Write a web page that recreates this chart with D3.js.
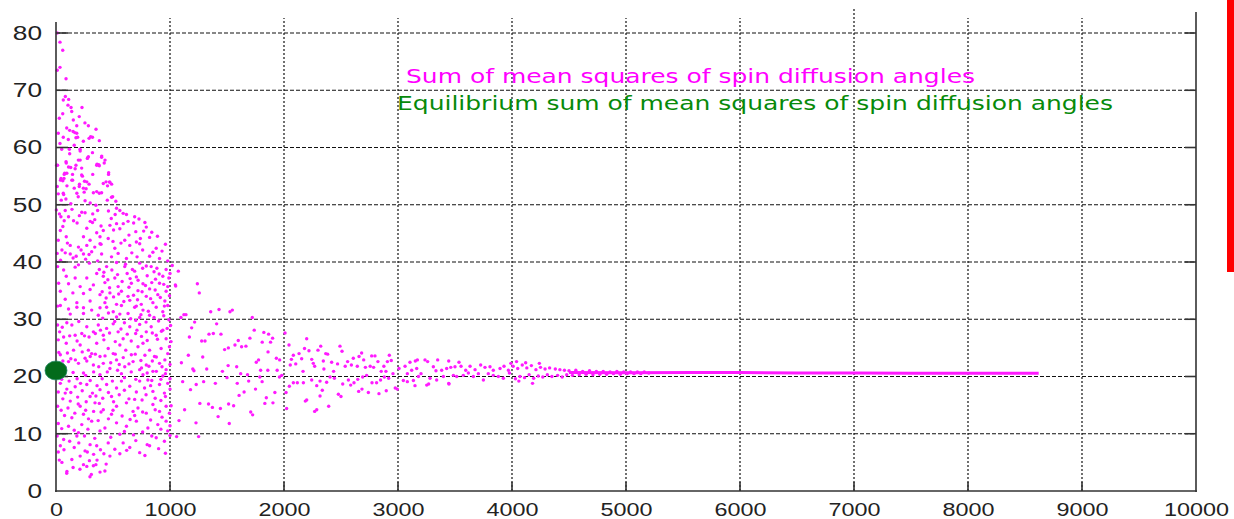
<!DOCTYPE html>
<html>
<head>
<meta charset="utf-8">
<script src="https://cdn.jsdelivr.net/npm/d3@7/dist/d3.min.js"></script>
<style>
  body { margin: 0; background: #fff; }
  svg { display: block; }
</style>
</head>
<body>
<div id="chart"></div>
<script>
// spin diffusion angles: scatter of sum of mean squares vs step, plus equilibrium value

const xTicks = [0, 1000, 2000, 3000, 4000, 5000, 6000, 7000, 8000, 9000, 10000];
const yTicks = [0, 10, 20, 30, 40, 50, 60, 70, 80];
const legendLabels = ['Sum of mean squares of spin diffusion angles', 'Equilibrium sum of mean squares of spin diffusion angles'];

const equilibriumX = [0];
const equilibriumY = [21.05];

// step 0 - 1000, widest spread
const earlyPoints = [
  [11,80],[35,78.4],[59,77],[11,73.5],[35,74],[88,72],
  [82,68.9],[111,68.4],[64,68.3],[59,65.9],[29,65.1],[105,67.4],[132,67],[228,67],[138,66.3],[204,65.4],[152,64.8],[254,64.3],[182,63.8],[94,63.4],[120,63],[150,62.8],[182,62.5],[165,62.6],[20,62.5],[64,61.8],[108,61.4],[175,61.7],[190,61.8],[284,63.8],[351,63.2],[304,61.9],[320,61.8],[290,61.6],[380,61.2],[35,60.7],[117,59.7],[211,59.7],[284,58.4],[275,58.1],[401,58.5],[430,57.8],[360,57.1],[375,57],[88,57.5],[196,57.8],[175,56.9],[6,56.9],[225,56.4],[129,56.5],[462,55.6],[76,55.5],[95,55.5],[322,55.3],[225,55.2],[44,54.6],[70,54.6],[146,54.3],[270,54],[250,54.1],[439,54],[470,54],[488,53.6],[204,53.2],[357,52.3],[497,51.4],[64,52],[240,52.9],[11,53.2],
  [212,59.4],[90,57.3],[110,56.6],[168,56.3],[212,57.8],[278,58.2],[400,58.3],[423,57.3],[357,56.9],[380,56.8],[14,56.9],[72,55.3],[145,55.3],[232,55],[461,55.3],[40,54.3],[60,54.2],[139,54.3],[206,53.6],[290,53.6],[415,53.7],[473,53.9],[452,53.3],[264,52.8],[96,53.3],[67,51.8],[160,52.9],[183,52],[247,52.2],[328,52.1],[380,52],[400,52.1],[487,51.3],[46,50.8],[87,51],[255,50.7],[525,50.6],
  [3,49.1],[81,49],[226,48.7],[255,48.6],[322,48.4],[531,49.4],[560,49],[589,48.5],[618,48.3],[690,47.9],[728,47.5],[519,48.3],[43,47.9],[72,47.2],[154,47.2],[300,47.1],[320,46.9],[473,46.4],[531,46.7],[632,47.1],[681,46.8],[792,46.1],[769,45.4],[415,45.5],[357,45.1],[560,45.8],[38,45.5],[90,44.4],[241,44.4],[299,43.8],[386,44.4],[458,44.1],[603,43.8],[705,43.5],[821,44.3],[20,43.8],[125,42.9],[197,42.6],[270,42.9],[386,43.2],[516,42.4],[647,42.9],[734,43.2],[879,42.4],[52,42.1],[81,41.6],[125,41.4],[177,41],[241,41.4],[313,41.8],[400,41.4],[487,40.9],[545,41.5],[618,40.6],[711,40.9],[821,41],[908,40.6],[980,40.2],
  [14,39.2],[67,38.6],[168,39.1],[197,39.5],[293,39.8],[380,38.7],[444,39.2],[531,39.9],[603,39.2],[670,38.7],[734,39.8],[792,39.3],[835,39.2],[885,38.9],[966,38.7],[1000,38],[1047,36],[90,37.5],[168,37.2],[270,37.2],[357,38],[415,37.5],[516,37.2],[624,38],[705,37.4],[873,37],[937,37.5],[23,36.3],[110,36.2],[212,35.7],[328,36],[429,36.4],[545,35.7],[661,36.3],[763,36.2],[821,35.3],[908,36.3],[980,35.7],[38,34.9],[148,34.6],[241,34.5],[299,35.2],[386,34.3],[473,34.6],[574,34.9],[632,34],[719,35],[792,34],[893,34.3],[966,34.9],[81,33.5],[183,32.9],[299,33.2],[429,32.9],[531,32.6],[647,33.3],[748,32.6],[850,32.9],[951,32.3],[14,32.3],[241,32],[386,32],[705,32.3],
  [38,32.4],[110,31.8],[183,32.1],[241,31],[313,31.6],[371,30.7],[444,32.1],[502,31.3],[574,32.4],[632,31],[690,32.1],[763,31.6],[821,30.7],[879,32.1],[937,31.3],[980,32.4],[125,30.9],[531,30.4],[734,30.3],
  [14,29],[32,27.8],[67,26.9],[139,29],[168,27.2],[226,27.5],[270,28.7],[328,27.8],[371,29],[415,27.2],[444,28.4],[502,29.2],[545,27.8],[589,26.6],[647,28.7],[699,27.5],[734,29.1],[792,27.8],[835,28.7],[879,27.2],[937,28.1],[966,26.6],[1009,26.1],[90,25.8],[154,24.6],[212,25.5],[284,24.6],[313,24],[357,25.8],[386,23.5],[458,24.9],[502,24],[560,25.5],[612,24.6],[661,23.8],[719,25.2],[763,25.8],[821,24.6],[864,23.5],[922,24.9],[980,24],[995,25.2],[38,23.8],[110,22.6],[197,22.3],[255,23.2],[328,22],[415,22.3],[473,21.4],[531,22.9],[603,21.7],[676,22.6],[734,21.2],[792,22],[850,20.9],[908,22.3],[966,21.2],[67,20.9],[241,20.6],[386,20.3],[574,20.5],[763,20.3],[937,20.1],
  [38,18.8],[81,17.1],[168,18.2],[270,18.6],[299,16.5],[386,17.7],[444,18.6],[487,16.5],[531,18],[574,19.2],[647,18.3],[690,16],[734,19.2],[777,18],[806,19.4],[850,17.4],[908,18.6],[951,17.1],[980,18.8],[14,14.8],[125,15.7],[212,14.8],[241,13.4],[342,15.4],[415,14.2],[487,13.4],[531,14.8],[618,15.4],[676,13.9],[719,14.5],[792,13.6],[850,15.1],[908,13.9],[966,14.8],[995,13.6],[139,12.8],[226,11.6],[313,12.2],[429,11],[531,11.9],[618,11.3],[705,12.2],[806,11],[893,11.6],[966,12.2],[980,10.5],[197,10.2],[386,10.5],[560,9.9],
  [67,9],[38,7.9],[183,9.6],[299,8.1],[255,7],[357,7.9],[458,8.4],[516,7.3],[589,8.4],[647,7.6],[734,6.7],[821,7.9],[879,9.3],[951,8.7],[212,6.1],[293,5.3],[328,4.4],[386,3.3],[429,3.5],[310,2.9],[96,3.4],[52,5],[139,5.5],[473,6.1],[241,4.6],[29,5.4],[94,3.1],[298,2.5],
  [420,38.2],[455,36.9],[490,38.6],[540,37.8],[580,36.6],[610,39.6],[650,37.1],[690,38.4],[720,36.8],[760,38.9],[800,37.6],[840,36.4],[860,38.3],[905,37.9],[945,36.1],[990,37.2],
  [405,34.8],[440,33.7],[470,35.5],[505,33.9],[550,34.4],[595,33.1],[640,35.6],[680,34.2],[715,33.4],[755,34.8],[785,35.9],[830,33.6],[870,35.1],[915,33.8],[955,33.2],[995,34.1],
  [410,30.2],[460,31.1],[515,29.6],[560,30.9],[600,29.4],[655,30.1],[700,29.8],[745,30.8],[790,29.5],[810,31.4],[860,30.3],[900,29.7],[945,30.6],[990,29.9],
  [420,26.4],[470,27.6],[520,26.1],[570,28.3],[625,27.4],[660,26.2],[710,28.1],[750,27],[800,26.3],[845,27.6],[890,26.5],[925,27.9],[975,28.4],[1005,28.9],
  [430,23.6],[480,22.4],[520,23.9],[555,22.1],[590,23.3],[640,22.2],[695,23.9],[745,22.8],[780,23.7],[815,21.8],[845,22.7],[880,23.4],[930,21.7],[955,22.9],[1000,22.1],
  [405,19.6],[450,20.8],[495,19.2],[540,21.1],[600,19.8],[660,20.8],[700,19.5],[750,21.5],[800,20.6],[840,19.3],[880,20.9],[920,19.5],[960,20.5],[1000,19.6],
  [410,16.2],[460,17.2],[505,15.6],[555,16.8],[600,17.6],[640,16.1],[705,17.3],[755,15.9],[790,16.8],[830,18.4],[870,16.2],[920,15.8],[960,16.5],[1000,17.8],
  [460,12.6],[500,14.1],[580,13.1],[650,12.5],[690,13.2],[760,13.8],[830,12.4],[870,14.2],[930,12.9],[1000,11.4],[1010,14.9],
  [480,9.4],[600,10.4],[680,9.8],[760,10.3],[840,9.6],[920,10.8],[1000,9.7],[560,6.5],[620,7.1],[700,8.8],[780,6.2],[800,8.1],[900,7.4],[960,6.6],[420,6.5],[360,5.4],[440,4.7],
  [20,26.4],[55,28.6],[95,29.4],[120,27.1],[185,26.2],[200,29.6],[250,27.1],[290,26.9],[345,27.5],[390,28.1],
  [25,24.2],[60,22.7],[100,24.1],[130,23.1],[170,22.9],[230,24.3],[270,22.7],[300,23.5],[345,23.9],[375,21.7],
  [50,19.5],[80,21.6],[115,19.2],[150,20.7],[185,19.6],[215,18.8],[260,20.2],[300,19.3],[330,20.8],[360,18.4],
  [20,17.3],[60,16.1],[95,17.8],[130,17.2],[190,16.4],[230,17.5],[265,15.6],[320,17.1],[350,16.6],[380,15.3],
  [45,14.1],[75,13.2],[105,14.5],[165,13.6],[195,15.2],[260,14.1],[285,12.6],[330,13.9],[370,12.3],[395,13.8],
  [20,11.8],[50,10.9],[110,11.3],[160,10.6],[250,9.6],[280,10.8],[340,9.2],[10,9.6],[120,8.7],[160,7.6],[200,8.4],[275,6.8],[330,6.4],[390,7.2],[20,6.8],[70,7.2],[150,4.1],[210,3.8],[270,4.3],[350,4.6],
  [30,48.4],[60,46.2],[110,47.9],[140,49.2],[185,46.8],[205,48.1],[270,45.9],[340,47.4],[365,49],[395,46.3],
  [10,41.5],[40,40.3],[100,43.3],[150,40.7],[220,42.1],[260,40.5],[290,41.3],[340,42.6],[365,40.2],[395,43.1],
  [120,58.9],[160,60.4],[240,61.1],[320,59.1],[50,59.7],[20,51.9],[130,50.2],[195,51.4],[300,50.3],[350,49.9],[450,50.8],[485,47.6],[505,45.6],[500,43.6],[460,48.9],[570,43.3],[590,46.7],[640,44.7],[665,41.6],[700,45.3],[740,44.1],[760,42.1],[780,46.9],[850,41.7],[840,45.2],[890,44.5],[930,41.9],[960,43.1],[1020,39.4]
];

// step 1000 - 3000
const midPoints = [
  [1073,38.4],[1050,35.8],[1240,36.2],[1257,34.6],[1357,31.3],[1430,31.7],[1526,31.3],[1547,31.6],[1722,30.3],[1096,30.3],[1122,30.8],[1140,30.8],[1216,29.5],[1190,28.5],[1409,29.2],[1380,27.5],[1447,27.4],[1342,27.4],[1170,26.9],[1278,26.2],[1307,26.2],[1479,24.7],[1512,25],[1599,26.3],[1570,25.5],[1628,25.2],[1666,25.3],[1701,26.7],[1739,28.1],[1823,27.7],[1865,27.4],[1809,26],[1882,26],[1900,26.7],[1161,23.7],[1287,23.4],[1100,22.4],[1757,22.5],[1777,22.9],[1860,24.3],[1933,23.2],[1962,22.9],[1210,21],[1200,21.3],[1322,21.3],[1460,20.9],[1510,21.9],[1585,21.7],[1620,20.5],[1680,20.3],[1795,21.1],[1858,21.1],[1940,21.1],[1500,19.8],[1295,19.1],[1398,18.8],[1590,18.8],[1690,19.2],[1788,19.9],[1808,19.1],[1960,19.9],[1980,20.2],[1111,19.1],[1180,17.7],[1230,18.6],[1650,17.3],[1606,16.7],[1750,17.8],[1920,17.2],[1845,16.3],[1903,15.4],[1832,15.3],[1262,15.3],[1338,15.2],[1372,14.6],[1442,14.4],[1514,15.2],[1558,14.9],[1128,14.2],[1422,13],[1708,13.8],[1725,13.3],[1079,12.3],[1228,11.9],[1520,11.8],[1251,9.5],[1058,9.5],
  [2009,27.6],[2044,25.5],[2199,26.6],[2082,23.7],[2132,24],[2180,24.9],[2219,24.5],[2298,24.6],[2322,25.3],[2366,24],[2383,23.9],[2491,25.3],[2509,24.4],[2345,22.7],[2418,22.5],[2470,22.2],[2243,23],[2155,23.1],[2065,23],[2103,22.2],[2055,22],[2167,20.9],[2269,21.8],[2257,22.3],[2350,21.3],[2435,20.9],[2537,21.8],[2558,22.6],[2608,23.2],[2591,22],[2658,23.5],[2681,24.1],[2699,22.9],[2769,23.6],[2798,23.6],[2643,21.8],[2714,21.6],[2756,21.8],[2786,21.6],[2824,22.6],[2876,21.8],[2907,22.6],[2924,23.7],[2853,20.9],[2894,20.9],[2941,22.8],
  [2082,18.9],[2117,18.9],[2170,18.9],[2243,19.4],[2287,18.4],[2316,19.2],[2374,19],[2404,19.9],[2442,19.7],[2515,18.7],[2565,19.4],[2614,18.9],[2647,19.5],[2690,19.9],[2725,20.2],[2772,18.9],[2812,18.9],[2847,19.4],[2880,19.9],[2918,19.7],[2956,20.5],[2976,18],[2994,17.8],[2018,17.2],[2047,18.3],[2023,14.4],[2187,15.7],[2199,15.9],[2316,16.6],[2336,17.6],[2392,14.8],[2287,14.2],[2269,13.9],[2477,16.9],[2500,16.5],[2585,18.5],[2655,17.4],[2684,17.8],[2740,17.2],[2833,17],[2897,17.5]
];

// step 3000 - 4000
const latePoints = [
  [3009,21.4],[3062,21.8],[3105,22.5],[3152,22.7],[3170,22.9],[3237,22.9],[3260,22.6],[3348,22.9],[3445,22.7],[3535,22.5],[3082,20.5],[3120,21.1],[3164,21.4],[3202,20.5],[3310,21.7],[3333,21],[3383,21.1],[3427,21.4],[3463,21.6],[3500,21.7],[3553,21.8],[3594,21.1],[3632,21.8],[3676,21.2],[3725,22],[3763,21.6],[3807,21.7],[3836,21.1],[3895,21.4],[3930,21.8],[3968,21.1],
  [3047,19.3],[3135,19.3],[3179,20],[3252,18.5],[3281,19.7],[3339,19.4],[3398,20],[3445,18.8],[3486,20.2],[3515,20],[3573,20.2],[3617,20.6],[3661,20],[3705,20.5],[3749,19.4],[3792,20.5],[3836,20.2],[3880,20],[3924,19.7],[3977,20.6],[3082,19.1],[3149,18.4],[3269,18.7],[3447,18.7]
];

// step 4000 - 5200, settling
const tailPoints = [
  [3990,22.3],[4040,22.6],[4120,22.4],[4180,18.8],[4060,19.2],[4240,22.3],
  [4010,21.8],[4030,19.6],[4050,21.4],[4070,20],[4090,22],[4110,19.8],[4130,21.5],[4150,20.3],[4170,21.9],[4190,19.7],[4210,21.2],[4230,20.1],[4250,21.6],[4270,19.9],[4290,21.3],[4310,20.3],[4330,21.5],[4350,20],[4380,21.3],[4400,20.2],[4420,21.2],[4440,19.9],[4460,21.1],[4480,20.3],[4500,21],[4530,20.2],[4560,21.1],[4590,20.3],[4620,20.9],[4650,20.4],[4680,21],[4710,20.3],[4740,20.9],[4770,20.4],[4800,20.9],[4830,20.4],[4860,20.8],[4890,20.5],[4920,20.9],[4950,20.4],[4980,20.8],[5010,20.5],[5040,20.8],[5070,20.5],[5100,20.8],[5130,20.5],[5160,20.8],[5200,20.6]
];

// step 4500 - 8620, converged
const tailLine = [[4500,20.7],[5000,20.65],[5600,20.7],[6000,20.68],[6500,20.62],[7000,20.6],[7500,20.58],[8000,20.57],[8620,20.57]];

const svgWidth = 1234;
const svgHeight = 519;

const svg = d3.select('#chart')
    .append('svg')
    .attr('width', svgWidth)
    .attr('height', svgHeight);

const xScale = d3.scaleLinear().domain([0, 10000]).range([56, 1196]);
const yScale = d3.scaleLinear().domain([0, 80]).range([491, 33]);

// grid
svg.append('g').selectAll('line')
    .data(yTicks.filter(d => d > 0))
    .enter().append('line')
    .attr('x1', 56).attr('x2', 1196)
    .attr('y1', d => yScale(d)).attr('y2', d => yScale(d))
    .attr('stroke', '#111').attr('stroke-width', 1.2)
    .attr('stroke-dasharray', '4,2');

svg.append('g').selectAll('line')
    .data(xTicks.filter(d => d > 0 && d < 10000))
    .enter().append('line')
    .attr('x1', d => xScale(d)).attr('x2', d => xScale(d))
    .attr('y1', 491).attr('y2', d => d === 7000 ? 7 : 18)
    .attr('stroke', '#111').attr('stroke-width', 1.2)
    .attr('stroke-dasharray', '2,2');

// data
const dots = svg.append('g');
[earlyPoints, midPoints, latePoints, tailPoints].forEach(pts => {
    dots.selectAll(null)
        .data(pts)
        .enter().append('circle')
        .attr('cx', d => xScale(d[0]))
        .attr('cy', d => yScale(d[1]))
        .attr('r', 1.7)
        .attr('fill', '#ff1aff');
});

svg.append('path')
    .datum(tailLine)
    .attr('d', d3.line().x(d => xScale(d[0])).y(d => yScale(d[1])))
    .attr('fill', 'none')
    .attr('stroke', '#ff1aff')
    .attr('stroke-width', 3);

// axes
const yAxis = svg.append('g')
    .attr('transform', 'translate(56,0)')
    .call(d3.axisLeft(yScale).tickValues(yTicks).tickSize(0).tickPadding(14));
yAxis.select('.domain').remove();
yAxis.selectAll('text')
    .attr('font-family', 'Liberation Sans, Arial, sans-serif')
    .attr('font-size', 20)
    .attr('fill', '#222')
    .attr('textLength', function() { return this.textContent.length * 14.6; })
    .attr('lengthAdjust', 'spacingAndGlyphs');

const xAxis = svg.append('g')
    .attr('transform', 'translate(0,491)')
    .call(d3.axisBottom(xScale).tickValues(xTicks).tickFormat(d3.format('d')).tickSize(0).tickPadding(12));
xAxis.select('.domain').remove();
xAxis.selectAll('text')
    .attr('font-family', 'Liberation Sans, Arial, sans-serif')
    .attr('font-size', 19)
    .attr('fill', '#222')
    .attr('textLength', function() { return this.textContent.length * 13; })
    .attr('lengthAdjust', 'spacingAndGlyphs');

const frame = svg.append('g').attr('stroke', '#333').attr('stroke-width', 1.6);
frame.append('line').attr('x1', 56).attr('x2', 56).attr('y1', 22).attr('y2', 492);
frame.append('line').attr('x1', 1196).attr('x2', 1196).attr('y1', 12).attr('y2', 492);
frame.append('line').attr('x1', 55).attr('x2', 1197).attr('y1', 491).attr('y2', 491);

// inner tick marks
frame.selectAll('.tl').data(yTicks.filter(d => d > 0)).enter().append('line')
    .attr('x1', 56).attr('x2', 68).attr('y1', d => yScale(d)).attr('y2', d => yScale(d));
frame.selectAll('.tr').data(yTicks.filter(d => d > 0)).enter().append('line')
    .attr('x1', 1185).attr('x2', 1196).attr('y1', d => yScale(d)).attr('y2', d => yScale(d));
frame.selectAll('.tb').data(xTicks.filter(d => d > 0 && d < 10000)).enter().append('line')
    .attr('x1', d => xScale(d)).attr('x2', d => xScale(d)).attr('y1', 482).attr('y2', 491);

// equilibrium marker
svg.append('g').selectAll('ellipse')
    .data(equilibriumX.map((v, i) => [v, equilibriumY[i]]))
    .enter().append('ellipse')
    .attr('cx', d => xScale(d[0]))
    .attr('cy', d => yScale(d[1]))
    .attr('rx', 11).attr('ry', 9.5)
    .attr('fill', '#036b1c')
    .attr('stroke', '#2a8a6a').attr('stroke-width', 0.8);

// legend
svg.append('text')
    .attr('x', 406).attr('y', 83)
    .attr('font-family', 'DejaVu Sans, Verdana, sans-serif')
    .attr('font-size', 20)
    .attr('fill', '#ff00ff')
    .attr('textLength', 569).attr('lengthAdjust', 'spacingAndGlyphs')
    .text(legendLabels[0]);
svg.append('text')
    .attr('x', 397).attr('y', 110)
    .attr('font-family', 'DejaVu Sans, Verdana, sans-serif')
    .attr('font-size', 19)
    .attr('fill', '#078a0a')
    .attr('textLength', 716).attr('lengthAdjust', 'spacingAndGlyphs')
    .text(legendLabels[1]);

// red bar at the right edge
svg.append('rect')
    .attr('x', 1227).attr('y', 0)
    .attr('width', 7).attr('height', 272)
    .attr('fill', '#ff0000');
</script>
</body>
</html>
